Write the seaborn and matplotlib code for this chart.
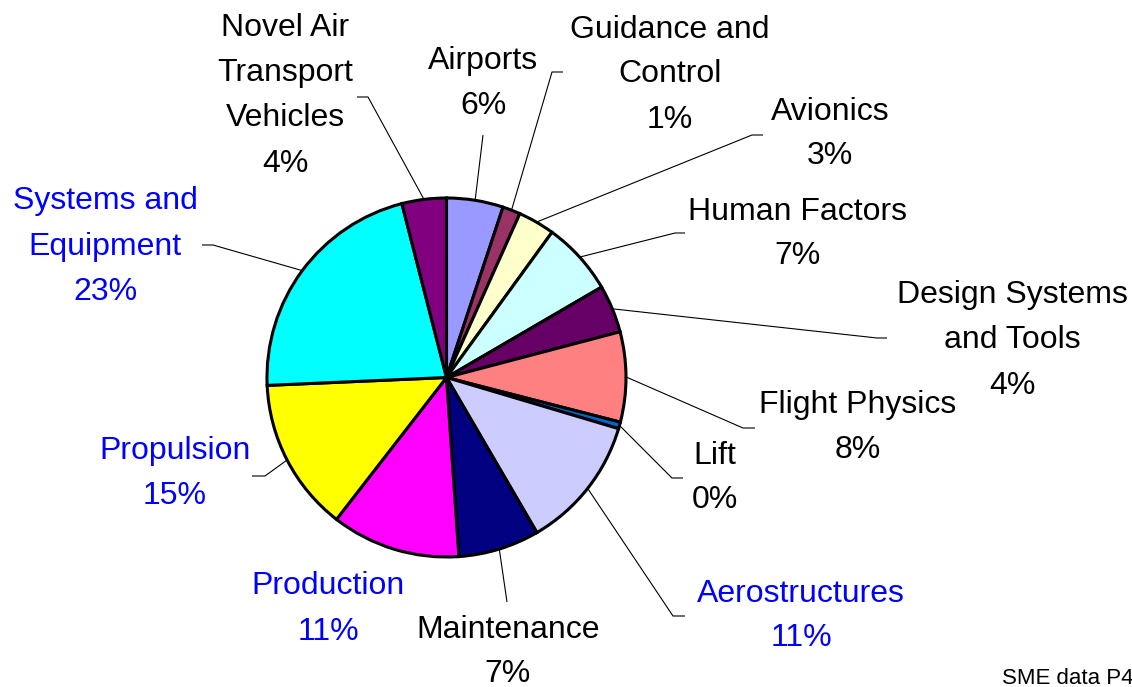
import numpy as np
import matplotlib
matplotlib.use("Agg")
import matplotlib.pyplot as plt
import seaborn as sns

sns.set_theme(style="white")
plt.rcParams['font.family'] = ['Liberation Sans', 'DejaVu Sans']

# slices clockwise from 12 o'clock
names = ["Airports", "Guidance and\nControl", "Avionics", "Human Factors",
         "Design Systems\nand Tools", "Flight Physics", "Lift", "Aerostructures",
         "Maintenance", "Production", "Propulsion", "Systems and\nEquipment",
         "Novel Air\nTransport\nVehicles"]
shares = [5.1, 1.6, 3.3, 6.6, 4.3, 8.1, 0.6, 12.0, 7.3, 11.6, 13.8, 21.7, 4.0]
pct_labels = ["6%", "1%", "3%", "7%", "4%", "8%", "0%", "11%", "7%", "11%", "15%", "23%", "4%"]
colors = ["#9999FF", "#993366", "#FFFFCC", "#CCFFFF", "#660066", "#FF8080", "#0066CC",
          "#CCCCFF", "#000080", "#FF00FF", "#FFFF00", "#00FFFF", "#800080"]
highlight = [False, False, False, False, False, False, False, True,
             False, True, True, True, False]

# layout in image pixels (y down)
W, H = 1132, 687
cx, cy, R = 446.5, 377.5, 179.5
label_xy = [(483, 58), (670, 26), (830, 108), (798, 208), (1012, 292), (858, 402),
            (715, 452), (801, 590), (508, 626), (328, 583), (175, 448), (105, 198), (285, 25)]
# (end near label, elbow); None = no leader line
leaders = [((483, 135), (483, 135)), ((563, 72), (552, 72)), ((763, 135), (752, 135)),
           ((685, 233), (675, 233)), ((887, 338), (877, 338)), ((755, 428), (743, 428)),
           ((683, 478), (672, 478)), ((685, 616), (673, 616)), ((507, 602), (507, 602)),
           None, ((252, 476), (265, 476)), ((202, 245), (213, 245)), ((357, 97), (368, 97))]


def fy(y):
    return H - y


def main():
    fig = plt.figure(figsize=(W / 100, H / 100), dpi=100)
    ax = fig.add_axes([0, 0, 1, 1])

    wedges, _ = ax.pie(shares, colors=colors, startangle=90, counterclock=False,
                       center=(cx, fy(cy)), radius=R,
                       wedgeprops=dict(edgecolor="black", linewidth=2.2))
    ax.set_xlim(0, W)
    ax.set_ylim(0, H)
    ax.set_aspect("equal")
    ax.axis("off")

    # leader lines
    for w, ld in zip(wedges, leaders):
        if ld is None:
            continue
        mid = np.deg2rad((w.theta1 + w.theta2) / 2)
        ex, ey = cx + R * np.cos(mid), fy(cy) + R * np.sin(mid)
        (x0, y0), (x1, y1) = ld
        ax.plot([x0, x1, ex], [fy(y0), fy(y1), ey], color="black", lw=0.8,
                solid_capstyle="butt", zorder=0)

    # labels
    for name, pct, (lx, ly), hl in zip(names, pct_labels, label_xy, highlight):
        lines = name.split("\n") + [pct]
        col = "#0000FF" if hl else "black"
        step = 44 if name == "Maintenance" else 45
        for i, line in enumerate(lines):
            ax.text(lx, fy(ly + 11.5 + i * step), line, ha="center", va="baseline",
                    fontsize=23, color=col)

    # footnote, clipped at the right edge as in the source
    ax.text(1002, fy(684), "SME data P4", ha="left", va="baseline", fontsize=16, color="black")

    fig.savefig("out.png", dpi=100)


if __name__ == "__main__":
    main()
